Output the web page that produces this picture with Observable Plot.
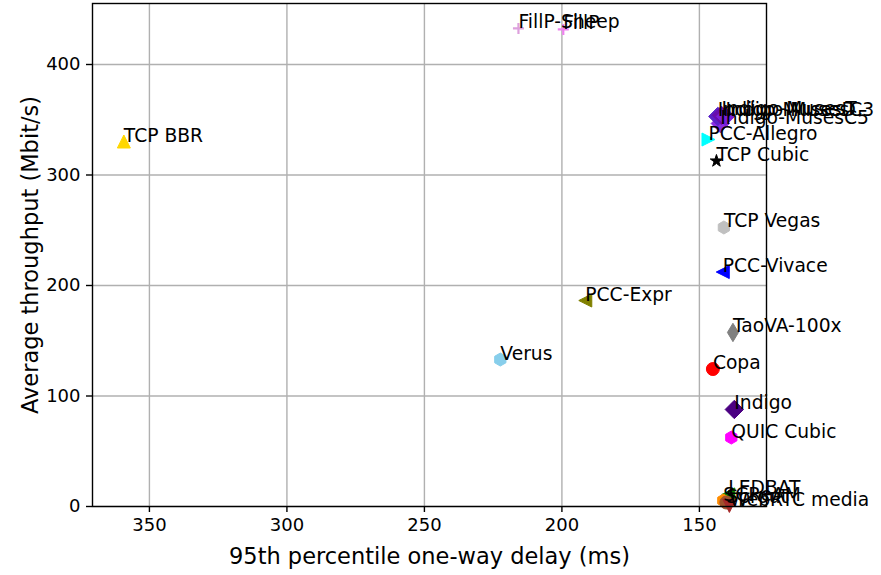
<!DOCTYPE html>
<html>
<head>
<meta charset="utf-8">
<script src="https://cdn.jsdelivr.net/npm/d3@7"></script>
<script src="https://cdn.jsdelivr.net/npm/@observablehq/plot@0.6"></script>
<style>
  html, body { margin: 0; padding: 0; background: white; }
</style>
</head>
<body>
<div id="chart"></div>
<script>
// ---- data ----
const schemes = ["TCP BBR", "FillP-Sheep", "FillP", "Verus", "PCC-Expr", "TCP Cubic", "PCC-Allegro",
  "Indigo-MusesC5", "Indigo-MusesD", "Indigo-MusesT", "Indigo-MusesC3",
  "TCP Vegas", "PCC-Vivace", "TaoVA-100x", "Copa", "Indigo", "QUIC Cubic",
  "LEDBAT", "SCReAM", "Sprout", "WebRTC media"];
const delays = [359.3, 215.8, 199.5, 222.4, 191.5, 143.8, 146.7,
  142.4, 143.3, 142.0, 140.5,
  141.1, 141.5, 137.8, 145.1, 137.3, 138.4,
  139.5, 141.3, 140.2, 139.1];
const throughputs = [330.3, 432.6, 431.7, 133.0, 186.4, 312.7, 332.1,
  346.6, 353.0, 354.0, 353.0,
  252.5, 212.2, 157.5, 124.4, 87.8, 62.4,
  10.9, 5.4, 3.6, 0.5];
const colors = ["#ffd700", "#dda0dd", "#ee82ee", "#87ceeb", "#808000", "#000000", "#00ffff",
  "#8a2be2", "#5b22c8", "#6a0dad", "#7a1fd8",
  "#c0c0c0", "#0000ff", "#808080", "#ff0000", "#4b0082", "#ff00ff",
  "#008000", "#ff8c00", "#a0522d", "#a52a2a"];
const markers = ["triUp", "plus", "plus", "hexagon", "triLeft", "star", "triRight",
  "diamond", "diamond", "diamond", "diamond",
  "hexagon", "triLeft", "thinDiamond", "circle", "diamond", "hexagon",
  "triLeft", "hexagon", "circle", "triDown"];
const xTicks = [350, 300, 250, 200, 150];
const yTicks = [0, 100, 200, 300, 400];
const xLabel = "95th percentile one-way delay (ms)";
const yLabel = "Average throughput (Mbit/s)";

const rows = schemes.map((name, i) => ({name, x: delays[i], y: throughputs[i], color: colors[i], marker: markers[i]}));

// ---- matplotlib-like marker shapes (unit radius, scaled by dot r) ----
function polySymbol(pts) {
  return {draw(ctx, size) {
    const r = Math.sqrt(size / Math.PI);
    ctx.moveTo(pts[0][0] * r, pts[0][1] * r);
    for (let k = 1; k < pts.length; k++) ctx.lineTo(pts[k][0] * r, pts[k][1] * r);
    ctx.closePath();
  }};
}
const hexPts = d3.range(6).map(k => { const a = (-90 + 60 * k) * Math.PI / 180; return [Math.cos(a), Math.sin(a)]; });
const starPts = d3.range(10).map(k => { const a = (-90 + 36 * k) * Math.PI / 180; const rr = k % 2 ? 0.381966 : 1; return [rr * Math.cos(a), rr * Math.sin(a)]; });
const symbols = {
  triUp: polySymbol([[0, -1], [-1, 1], [1, 1]]),
  triDown: polySymbol([[0, 1], [-1, -1], [1, -1]]),
  triLeft: polySymbol([[-1, 0], [1, -1], [1, 1]]),
  triRight: polySymbol([[1, 0], [-1, -1], [-1, 1]]),
  hexagon: polySymbol(hexPts),
  star: polySymbol(starPts),
  diamond: polySymbol([[0, -1.414], [1.414, 0], [0, 1.414], [-1.414, 0]]),
  thinDiamond: polySymbol([[0, -1.414], [0.85, 0], [0, 1.414], [-0.85, 0]]),
  circle: {draw(ctx, size) { const r = Math.sqrt(size / Math.PI); ctx.moveTo(r, 0); ctx.arc(0, 0, r, 0, 2 * Math.PI); }},
  plus: {draw(ctx, size) { const r = Math.sqrt(size / Math.PI); ctx.moveTo(-r, 0); ctx.lineTo(r, 0); ctx.moveTo(0, -r); ctx.lineTo(0, r); }}
};

const dotMarks = rows.map(d => {
  if (d.marker === "plus") {
    return Plot.dot([d], {x: "x", y: "y", r: 5.5, symbol: symbols.plus, fill: "none", stroke: "color", strokeWidth: 2.2});
  }
  return Plot.dot([d], {x: "x", y: "y", r: 6.5, symbol: symbols[d.marker], fill: "color", stroke: "color", strokeWidth: 1});
});

const chart = Plot.plot({
  width: 881,
  height: 575,
  marginLeft: 92,
  marginRight: 115,
  marginTop: 3,
  marginBottom: 69,
  style: {fontFamily: "DejaVu Sans", fontSize: "18px", color: "black", background: "white", overflow: "visible"},
  x: {domain: [370.7, 125.6]},
  y: {domain: [0, 455.2]},
  color: {type: "identity"},
  marks: [
    Plot.gridX(xTicks, {stroke: "#b0b0b0", strokeOpacity: 1, strokeWidth: 1.4}),
    Plot.gridY(yTicks, {stroke: "#b0b0b0", strokeOpacity: 1, strokeWidth: 1.4}),
    ...dotMarks,
    Plot.frame({stroke: "black", strokeWidth: 1.4}),
    Plot.axisX(xTicks, {tickSize: 6, tickPadding: 6, fontSize: 18, label: null, tickFormat: d => String(d), strokeWidth: 1.4}),
    Plot.axisY(yTicks, {tickSize: 6, tickPadding: 6, fontSize: 18, label: null, tickFormat: d => String(d), strokeWidth: 1.4}),
    Plot.text(rows, {x: "x", y: "y", text: "name", textAnchor: "start", lineAnchor: "bottom", fontSize: 18.7, fill: "black"}),
    Plot.text([xLabel], {text: d => d, frameAnchor: "bottom", textAnchor: "middle", dy: 57, lineAnchor: "bottom", fontSize: 22.5, fill: "black"}),
    Plot.text([yLabel], {text: d => d, frameAnchor: "left", textAnchor: "middle", rotate: -90, dx: -55, lineAnchor: "bottom", fontSize: 22.5, fill: "black"})
  ]
});
document.getElementById("chart").appendChild(chart);
</script>
</body>
</html>
